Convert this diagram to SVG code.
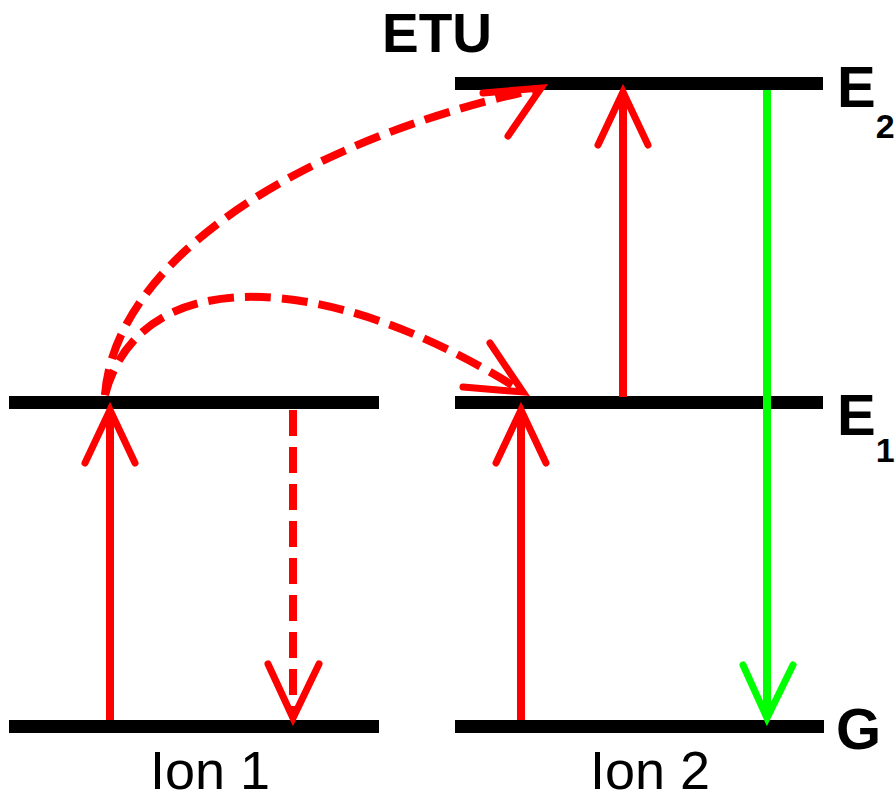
<svg xmlns="http://www.w3.org/2000/svg" width="895" height="800" viewBox="0 0 895 800">
<style>
.lvl{fill:#000}
.red{stroke:#ff0000;stroke-width:8;fill:none}
.grn{stroke:#00ff00;stroke-width:8;fill:none}
.head{stroke-width:7;stroke-linecap:round;stroke-linejoin:miter;fill:none}
.dash{stroke-dasharray:26 11}
.lab{font-family:"Liberation Sans",Arial,sans-serif;font-weight:bold;fill:#000}
.ion{font-family:"Liberation Sans",Arial,sans-serif;fill:#000;font-size:54px}
</style>
<rect width="895" height="800" fill="#fff"/>
<g id="levels">
<g id="ion1-E1"><rect class="lvl" x="9" y="396" width="370" height="13"/></g>
<g id="ion1-G"><rect class="lvl" x="9" y="720" width="370" height="13"/></g>
<g id="ion2-E2"><rect class="lvl" x="455" y="77" width="368" height="13"/></g>
<g id="ion2-E1"><rect class="lvl" x="455" y="396" width="368" height="13"/></g>
<g id="ion2-G"><rect class="lvl" x="455" y="720" width="369" height="13"/></g>
</g>
<g id="labels">
<text class="lab" x="382" y="52" font-size="55">ETU</text>
<text class="lab" x="837" y="107" font-size="58">E<tspan font-size="34" dy="31">2</tspan></text>
<text class="lab" x="837" y="435" font-size="58">E<tspan font-size="34" dy="27">1</tspan></text>
<text class="lab" x="836" y="749" font-size="58">G</text>
<text class="ion" x="150" y="789">Ion 1</text>
<text class="ion" x="590" y="789">Ion 2</text>
</g>
<g id="connectors">
<line class="red" x1="110" y1="720" x2="110" y2="412"/>
<polyline class="red head" points="85,463 110,410 135,463"/>
<line class="red dash" x1="293" y1="410" x2="293" y2="714"/>
<polyline class="red head" points="268,664 293,718 319,664"/>
<line class="red" x1="521" y1="720" x2="521" y2="412"/>
<polyline class="red head" points="496,463 521,410 546,463"/>
<line class="red" x1="623" y1="397" x2="623" y2="95"/>
<polyline class="red head" points="598,145 623,92 648,145"/>
<line class="grn" x1="767" y1="90" x2="767" y2="714"/>
<polyline class="grn head" points="743,665 767,718 793,665"/>
<path class="red dash" d="M105,395 C115,260 300,140 538,89"/>
<polyline class="red head" points="483,93 541,88 508,136"/>
<path class="red dash" d="M105,395 C140,260 330,270 520,390"/>
<polyline class="red head" points="490,343 523,392 463,387"/>
</g>
</svg>
